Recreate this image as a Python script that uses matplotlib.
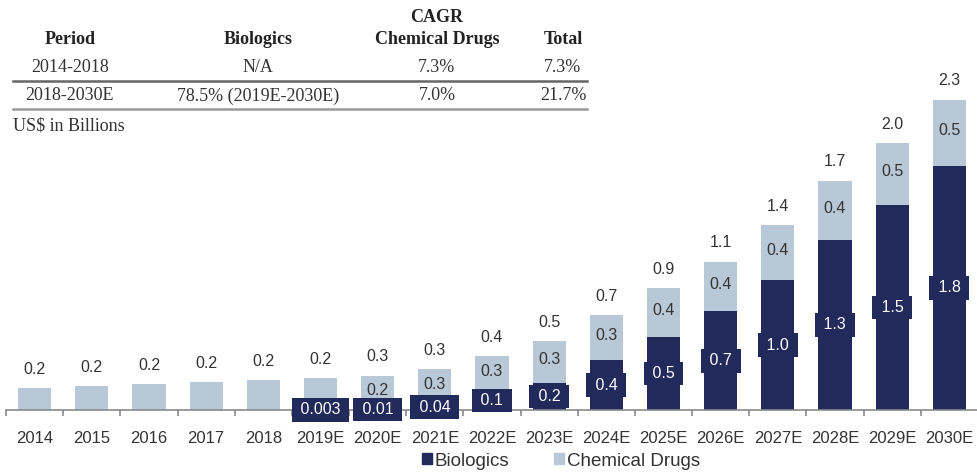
import matplotlib.pyplot as plt
from matplotlib.lines import Line2D
from matplotlib.patches import Patch
import numpy as np

plt.rcParams['font.family'] = ['Liberation Sans', 'DejaVu Sans']

years = ["2014", "2015", "2016", "2017", "2018", "2019E", "2020E", "2021E", "2022E",
         "2023E", "2024E", "2025E", "2026E", "2027E", "2028E", "2029E", "2030E"]
biologics = [0, 0, 0, 0, 0, 0.003, 0.01, 0.04, 0.14, 0.2, 0.37, 0.54, 0.73, 0.96, 1.26, 1.52, 1.81]
chemical = [0.163, 0.178, 0.19, 0.207, 0.22, 0.234, 0.245, 0.26, 0.26, 0.31, 0.33, 0.36, 0.37, 0.41, 0.44, 0.46, 0.49]
chem_label_from = 6  # chemical segment labelled from 2020E on

# CAGR table
table_cols = ["Period", "Biologics", "Chemical Drugs", "Total"]
table_rows = [["2014-2018", "N/A", "7.3%", "7.3%"],
              ["2018-2030E", "78.5% (2019E-2030E)", "7.0%", "21.7%"]]

navy = "#222a5c"
light = "#b9c8d7"
txt = "#333333"

W, H = 978, 473
fig = plt.figure(figsize=(W / 100, H / 100), dpi=100)
ax = fig.add_axes([6 / W, 63 / H, 972 / W, 351 / H])

x = np.arange(len(years))
bio = np.array(biologics)
chem = np.array(chemical)
total = bio + chem

ax.bar(x, bio, width=0.58, color=navy, zorder=2)
ax.bar(x, chem, width=0.58, bottom=bio, color=light, zorder=2)

def fmt_bio(v):
    return f"{v:g}" if v < 0.1 else f"{v:.1f}"

for i in range(len(years)):
    ax.annotate(f"{total[i]:.1f}", (x[i], total[i]), xytext=(0, 8), textcoords="offset points",
                ha="center", va="bottom", fontsize=11.5, color=txt)
    if bio[i] > 0:
        # spaces make the dark label box wider than the bar, as in the source
        ax.text(x[i], bio[i] / 2, " " + fmt_bio(bio[i]) + " ", ha="center", va="center",
                fontsize=11.5, color="white", zorder=4,
                bbox=dict(boxstyle="square,pad=0.27", facecolor=navy, edgecolor="none"))
    if i >= chem_label_from:
        ax.annotate(f"{chem[i]:.1f}", (x[i], bio[i] + chem[i] / 2), xytext=(0, 1.5),
                    textcoords="offset points", ha="center", va="center",
                    fontsize=11.5, color=txt, zorder=3)

ax.set_xlim(-0.5, len(years) - 0.5)
ax.set_ylim(0, 2.6)
ax.set_yticks([])
for s in ["top", "right", "left"]:
    ax.spines[s].set_visible(False)
ax.spines["bottom"].set_color("#8a8a8a")
ax.spines["bottom"].set_linewidth(1.2)
ax.set_xticks(x)
ax.set_xticklabels(years, fontsize=12, color=txt)
ax.tick_params(axis="x", which="major", length=0, pad=15)
ax.set_xticks(np.arange(-0.5, len(years), 1.0), minor=True)
ax.tick_params(axis="x", which="minor", length=4, color="#8a8a8a", width=1.2)

handles = [Patch(color=navy, label="Biologics"), Patch(color=light, label="Chemical Drugs")]
fig.legend(handles=handles, loc="center", bbox_to_anchor=(561 / W, 1 - 461 / H), ncol=2,
           frameon=False, fontsize=13.5, handlelength=0.53, handleheight=0.53,
           handletextpad=0.16, columnspacing=2.4, labelcolor=txt)

# table on top
serif = ['Liberation Serif', 'DejaVu Serif']
col_x = [70, 258, 437, 563]
fig.text(col_x[2] / W, 1 - 17 / H, "CAGR", ha="center", va="center", fontsize=13,
         fontweight="bold", family=serif, color="#222222")
for cx, name in zip(col_x, table_cols):
    fig.text(cx / W, 1 - 40 / H, name, ha="center", va="center", fontsize=13,
             fontweight="bold", family=serif, color="#222222")
for ry, row in zip([67, 96], table_rows):
    for cx, val in zip(col_x, row):
        fig.text(cx / W, 1 - ry / H, val, ha="center", va="center", fontsize=13,
                 family=serif, color="#333333")
fig.add_artist(Line2D([13 / W, 587 / W], [1 - 81 / H] * 2, color="#666666", lw=1.8))
fig.add_artist(Line2D([13 / W, 587 / W], [1 - 109 / H] * 2, color="#999999", lw=1.8))
fig.text(13 / W, 1 - 126 / H, "US$ in Billions", ha="left", va="center", fontsize=13,
         family=serif, color="#333333")

fig.savefig("out.png", dpi=100)
